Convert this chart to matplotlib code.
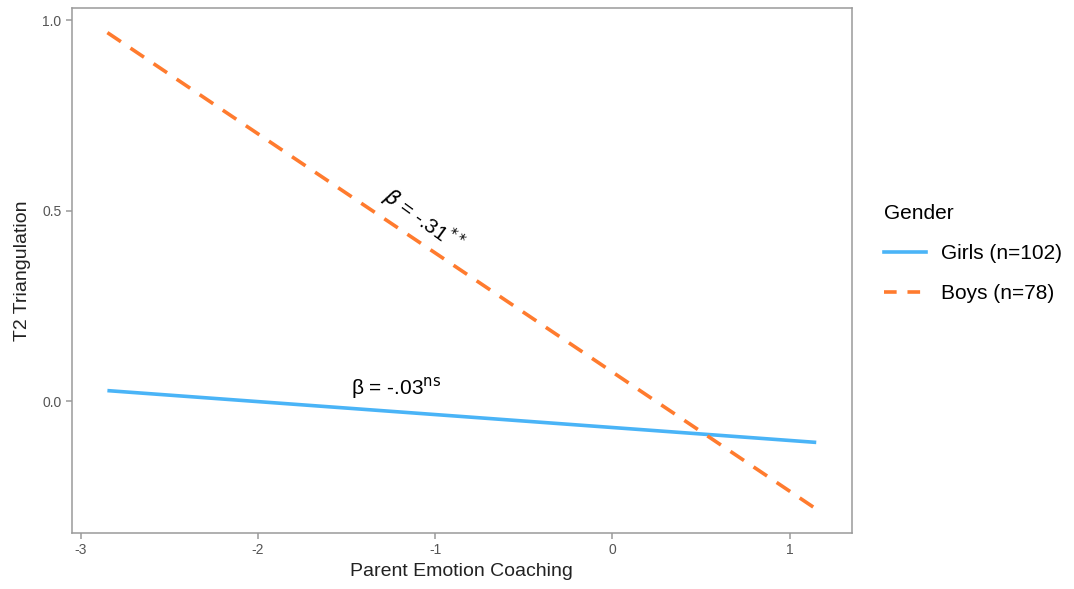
import numpy as np
import matplotlib.pyplot as plt
from matplotlib.lines import Line2D

plt.rcParams['font.family'] = ['Liberation Sans', 'DejaVu Sans']

# Simple slopes at the ends of the coaching range
coaching = [-2.85, 1.15]
girls = [0.028, -0.108]
boys = [0.968, -0.283]

x_ticks = [-3, -2, -1, 0, 1]
y_ticks = [0.0, 0.5, 1.0]

blue = "#4AB4F7"
orange = "#FF7B2E"

fig = plt.figure(figsize=(10.74, 5.89), dpi=100)
ax = fig.add_axes([0.067, 0.095, 0.726, 0.891])

ax.plot(coaching, girls, color=blue, lw=2.6, solid_capstyle="butt")
ax.plot(coaching, boys, color=orange, lw=2.6, dashes=(4.5, 3.2))

ax.set_xlim(-3.05, 1.35)
ax.set_ylim(-0.346, 1.032)
ax.set_xticks(x_ticks)
ax.set_xticklabels(["-3", "-2", "-1", "0", "1"])
ax.set_yticks(y_ticks)
ax.set_yticklabels(["0.0", "0.5", "1.0"])

for s in ax.spines.values():
    s.set_color("#9a9a9a")
    s.set_linewidth(1.1)
ax.tick_params(colors="#9a9a9a", labelcolor="#555555", labelsize=10, length=4, width=1.1)

ax.set_xlabel("Parent Emotion Coaching", fontsize=14, color="#222222", labelpad=4)
ax.set_ylabel("T2 Triangulation", fontsize=14, color="#222222", labelpad=8)

ax.text(-1.07, 0.475, r"$\beta$ = -.31$^{**}$", rotation=-36, fontsize=15,
        ha="center", va="center", rotation_mode="anchor")
ax.text(-1.22, 0.034, r"β = -.03$^{\mathrm{ns}}$", fontsize=15,
        ha="center", va="center")

handles = [Line2D([], [], color=blue, lw=2.6),
           Line2D([], [], color=orange, lw=2.6, dashes=(3.5, 3))]
leg = fig.legend(handles, ["Girls (n=102)", "Boys (n=78)"], title="Gender",
                 loc="upper left", bbox_to_anchor=(0.806, 0.685), frameon=False,
                 fontsize=15, title_fontsize=15, handlelength=2.0,
                 labelspacing=1.0, handletextpad=0.7)
leg._legend_box.align = "left"

fig.savefig("out.png", dpi=100)
